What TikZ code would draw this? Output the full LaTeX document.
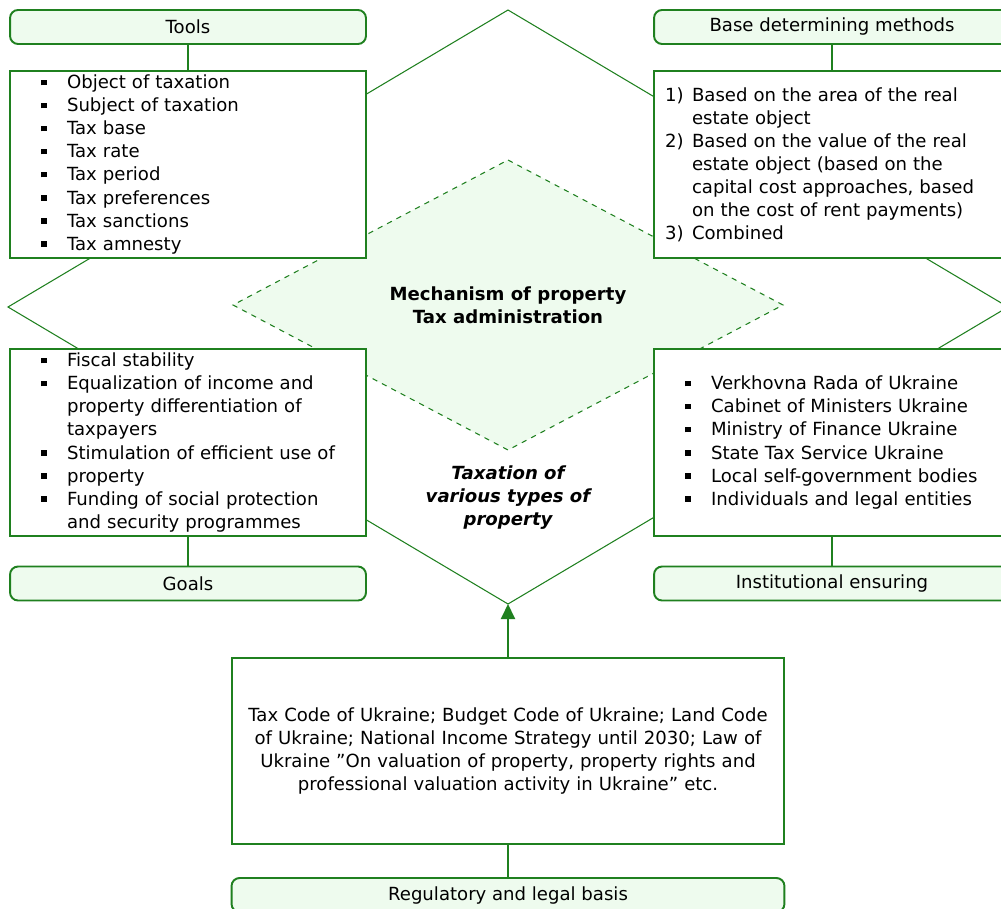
\documentclass[tikz,border=0pt]{standalone}
\usepackage{fontspec}
\setmainfont{DejaVu Sans}
\usetikzlibrary{arrows.meta, positioning, calc}
\usepackage{xcolor}
\definecolor{taxgreen}{HTML}{1F801F}
\definecolor{taxlight}{HTML}{EEFBEE}

\newcommand{\basefont}{\fontsize{10.3}{13.1}\selectfont}
\newcommand{\sqbul}{\makebox[0.52cm][l]{\raisebox{0.07cm}{\rule{0.115cm}{0.115cm}}}}
\newcommand{\sqgap}{\hspace*{0.52cm}}
\newcommand{\numit}[1]{\makebox[0.54cm][l]{#1}}

\tikzset{
  headbox/.style={draw=taxgreen, line width=1.1pt, fill=taxlight, rounded corners=0.16cm,
    minimum width=7.12cm, minimum height=0.68cm, inner sep=0pt},
  listbox/.style={draw=taxgreen, line width=1.1pt, fill=white, minimum width=7.12cm,
    minimum height=3.74cm, inner xsep=0.62cm, inner ysep=0pt, text width=5.88cm, align=left},
  methbox/.style={listbox, inner xsep=0.22cm, text width=6.68cm},
  lawbox/.style={listbox, minimum width=11.06cm, minimum height=3.72cm,
    inner xsep=0.18cm, text width=10.7cm, align=center},
  link/.style={draw=taxgreen, line width=1.1pt},
  rim/.style={draw=taxgreen, line width=0.6pt},
}

\begin{document}
\begin{tikzpicture}[x=0.02cm, y=-0.02cm, font=\basefont]
  \useasboundingbox (0,0) rectangle (1001,909);
  \clip (0,0) rectangle (1001,909);

  % Outer diamond
  \coordinate (outerS) at (508,604);
  \draw[rim, fill=white] (508,10) -- (1008,307) -- (outerS) -- (8,307) -- cycle;

  % Inner dashed diamond
  \draw[rim, dashed, fill=taxlight] (508,160) -- (783,305) -- (508,450) -- (233,305) -- cycle;
  \node[font=\basefont\bfseries, align=center] (mech) at (508,305)
    {Mechanism of property\\Tax administration};
  \node[font=\basefont\bfseries\itshape, align=center] (kinds) at (508,498)
    {Taxation of\\various types of\\property};

  % Tools
  \node[headbox] (toolshead) at (188,27) {Tools};
  \node[listbox] (tools) at (188,164.5) {%
    \sqbul Object of taxation\\
    \sqbul Subject of taxation\\
    \sqbul Tax base\\
    \sqbul Tax rate\\
    \sqbul Tax period\\
    \sqbul Tax preferences\\
    \sqbul Tax sanctions\\
    \sqbul Tax amnesty};

  % Base determining methods
  \node[headbox] (methhead) at (832,27) {Base determining methods};
  \node[methbox] (meth) at (832,164.5) {%
    \numit{1)}Based on the area of the real\\
    \hspace*{0.54cm}estate object\\
    \numit{2)}Based on the value of the real\\
    \hspace*{0.54cm}estate object (based on the\\
    \hspace*{0.54cm}capital cost approaches, based\\
    \hspace*{0.54cm}on the cost of rent payments)\\
    \numit{3)}Combined};

  % Goals
  \node[listbox] (goals) at (188,442.5) {%
    \sqbul Fiscal stability\\
    \sqbul Equalization of income and\\
    \sqgap property differentiation of\\
    \sqgap taxpayers\\
    \sqbul Stimulation of efficient use of\\
    \sqbul property\\
    \sqbul Funding of social protection\\
    \sqgap and security programmes};
  \node[headbox] (goalshead) at (188,583.5) {Goals};

  % Institutional ensuring
  \node[listbox] (inst) at (832,442.5) {%
    \sqbul Verkhovna Rada of Ukraine\\
    \sqbul Cabinet of Ministers Ukraine\\
    \sqbul Ministry of Finance Ukraine\\
    \sqbul State Tax Service Ukraine\\
    \sqbul Local self-government bodies\\
    \sqbul Individuals and legal entities};
  \node[headbox] (insthead) at (832,583.5) {Institutional ensuring};

  % Regulatory and legal basis
  \node[lawbox] (law) at (508,751) {%
    Tax Code of Ukraine; Budget Code of Ukraine; Land Code\\
    of Ukraine; National Income Strategy until 2030; Law of\\
    Ukraine ”On valuation of property, property rights and\\
    professional valuation activity in Ukraine” etc.};
  \node[headbox, minimum width=11.06cm] (reghead) at (508,895) {Regulatory and legal basis};

  % Connectors
  \draw[link] (toolshead) -- (tools);
  \draw[link] (methhead) -- (meth);
  \draw[link] (goals) -- (goalshead);
  \draw[link] (inst) -- (insthead);
  \draw[link] (reghead) -- (law);
  \draw[link, -{Triangle[length=0.3cm, width=0.28cm]}] (law.north) -- (outerS);
\end{tikzpicture}
\end{document}
